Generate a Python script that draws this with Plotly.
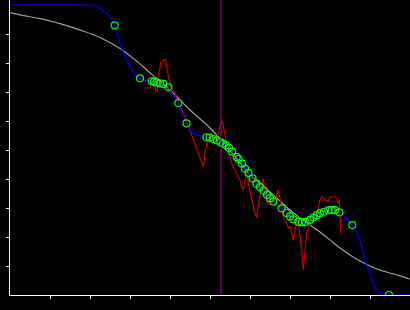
import plotly.graph_objects as go

# smooth reference curve (gray)
gray_x = [0, 0.25, 0.75, 1.25, 1.75, 2.25, 2.75, 3.25, 3.5, 4.0, 4.5, 5.0, 5.5, 6.0, 6.25, 6.5,
          6.75, 7.0, 7.25, 7.5, 7.75, 8.0, 8.25, 8.5, 8.75, 9.0, 9.25, 9.5, 9.75, 10]
gray_y = [0.974, 0.966, 0.953, 0.936, 0.914, 0.888, 0.850, 0.797, 0.766, 0.707, 0.638, 0.576,
          0.500, 0.414, 0.386, 0.355, 0.324, 0.293, 0.266, 0.241, 0.217, 0.190, 0.162, 0.138,
          0.117, 0.100, 0.086, 0.076, 0.066, 0.055]

# noisy observations (red)
red_x = [3.375, 3.5, 3.543, 3.625, 3.65, 3.683, 3.708, 3.733, 3.768, 3.818, 3.833, 3.875, 3.9,
         3.918, 3.958, 3.983, 4.018, 4.083, 4.15, 4.208, 4.293, 4.375, 4.833, 4.875, 4.918, 5.0,
         5.083, 5.168, 5.208, 5.25, 5.275, 5.318, 5.333, 5.375, 5.418, 5.458, 5.5, 5.543, 5.625,
         5.708, 5.75, 5.793, 5.833, 5.875, 5.918, 5.958, 6.0, 6.043, 6.083, 6.125, 6.168, 6.208,
         6.25, 6.293, 6.333, 6.375, 6.418, 6.458, 6.5, 6.583, 6.625, 6.668, 6.708, 6.75, 6.833,
         6.918, 6.958, 7.0, 7.083, 7.125, 7.168, 7.208, 7.25, 7.293, 7.318, 7.333, 7.35, 7.375,
         7.418, 7.458, 7.5, 7.583, 7.668, 7.708, 7.75, 7.793, 7.833, 7.875, 7.958, 8.0, 8.125,
         8.168, 8.208, 8.233, 8.25, 8.268, 8.293]
red_y = [0.713, 0.715, 0.721, 0.721, 0.704, 0.701, 0.747, 0.776, 0.801, 0.804, 0.810, 0.810, 0.813,
         0.782, 0.753, 0.736, 0.718, 0.707, 0.684, 0.661, 0.638, 0.614, 0.442, 0.489, 0.523, 0.540,
         0.546, 0.540, 0.558, 0.575, 0.592, 0.597, 0.580, 0.552, 0.523, 0.500, 0.477, 0.454, 0.431,
         0.408, 0.397, 0.373, 0.362, 0.397, 0.420, 0.386, 0.355, 0.334, 0.307, 0.283, 0.266, 0.310,
         0.341, 0.369, 0.402, 0.362, 0.322, 0.314, 0.341, 0.345, 0.304, 0.345, 0.362, 0.334, 0.270,
         0.247, 0.231, 0.238, 0.190, 0.224, 0.248, 0.252, 0.201, 0.167, 0.121, 0.086, 0.114, 0.172,
         0.217, 0.231, 0.247, 0.255, 0.264, 0.300, 0.328, 0.340, 0.334, 0.328, 0.324, 0.338, 0.338,
         0.331, 0.317, 0.328, 0.282, 0.213, 0.213]

# fitted sample points (green circles)
pts_x = [2.618, 3.25, 3.543, 3.6, 3.663, 3.75, 3.833, 3.958, 4.208, 4.413, 4.913, 4.988, 5.083,
         5.175, 5.263, 5.325, 5.4, 5.475, 5.55, 5.668, 5.713, 5.8, 5.875, 5.963, 6.063, 6.163,
         6.25, 6.338, 6.425, 6.5, 6.583, 6.788, 6.918, 7.0, 7.083, 7.208, 7.3, 7.388, 7.5, 7.583,
         7.668, 7.75, 7.85, 7.958, 8.043, 8.125, 8.233, 8.558, 9.475]
pts_y = [0.930, 0.747, 0.737, 0.736, 0.733, 0.730, 0.728, 0.717, 0.662, 0.592, 0.544, 0.543, 0.538,
         0.533, 0.527, 0.522, 0.516, 0.507, 0.495, 0.476, 0.469, 0.453, 0.436, 0.421, 0.402, 0.384,
         0.372, 0.360, 0.345, 0.334, 0.322, 0.299, 0.283, 0.271, 0.261, 0.253, 0.251, 0.252, 0.259,
         0.267, 0.275, 0.282, 0.287, 0.292, 0.293, 0.293, 0.285, 0.241, 0.0]

# extra points of the fitted curve (blue) between the samples
fit_x = [0, 1.0, 1.75, 1.95, 2.168, 2.333, 2.5, 2.708, 2.793, 2.9, 3.025, 3.138, 3.375, 4.075,
         4.3, 4.5, 4.625, 4.775, 8.375, 8.668, 8.793, 8.875, 8.958, 9.043, 9.168, 9.293, 10]
fit_y = [1.0, 1.0, 1.0, 1.0, 0.994, 0.979, 0.959, 0.886, 0.850, 0.816, 0.781, 0.757, 0.741, 0.690,
         0.628, 0.569, 0.555, 0.548, 0.269, 0.214, 0.167, 0.121, 0.086, 0.052, 0.017, 0.002, 0.0]

marker_x = 5.275

x_ticks = [1, 2, 3, 4, 5, 6, 7, 8, 9]
y_ticks = [0.1, 0.2, 0.3, 0.4, 0.5, 0.6, 0.7, 0.8, 0.9]

blue = sorted(zip(fit_x + pts_x, fit_y + pts_y))
blue_x = [p[0] for p in blue]
blue_y = [p[1] for p in blue]

fig = go.Figure()
fig.add_trace(go.Scatter(x=gray_x, y=gray_y, mode="lines", line=dict(color="#a0a0a0", width=1.2, shape="spline"),
                         hoverinfo="skip"))
fig.add_trace(go.Scatter(x=red_x, y=red_y, mode="lines", line=dict(color="#cc0000", width=1.2),
                         hoverinfo="skip"))
fig.add_trace(go.Scatter(x=blue_x, y=blue_y, mode="lines", line=dict(color="#0000ff", width=1.2, shape="spline", smoothing=0.5),
                         hoverinfo="skip"))
fig.add_trace(go.Scatter(x=pts_x, y=pts_y, mode="markers",
                         marker=dict(symbol="circle-open", size=7, color="#00ff00", line=dict(width=1.2, color="#00ff00")),
                         hoverinfo="skip"))
fig.add_vline(x=marker_x, line=dict(color="#990099", width=1.2), layer="above")

axis_common = dict(showline=True, linecolor="white", linewidth=1, ticks="outside", ticklen=3,
                   tickcolor="white", tickwidth=1, showticklabels=False, showgrid=False, zeroline=False)
fig.update_xaxes(range=[0, 10], tickvals=x_ticks, **axis_common)
fig.update_yaxes(range=[0, 295 / 290], tickvals=y_ticks, **axis_common)
fig.update_layout(width=410, height=310, margin=dict(l=10, r=0, t=0, b=15),
                  paper_bgcolor="black", plot_bgcolor="black", showlegend=False)

fig.write_html("out.html", config={"displayModeBar": False})
